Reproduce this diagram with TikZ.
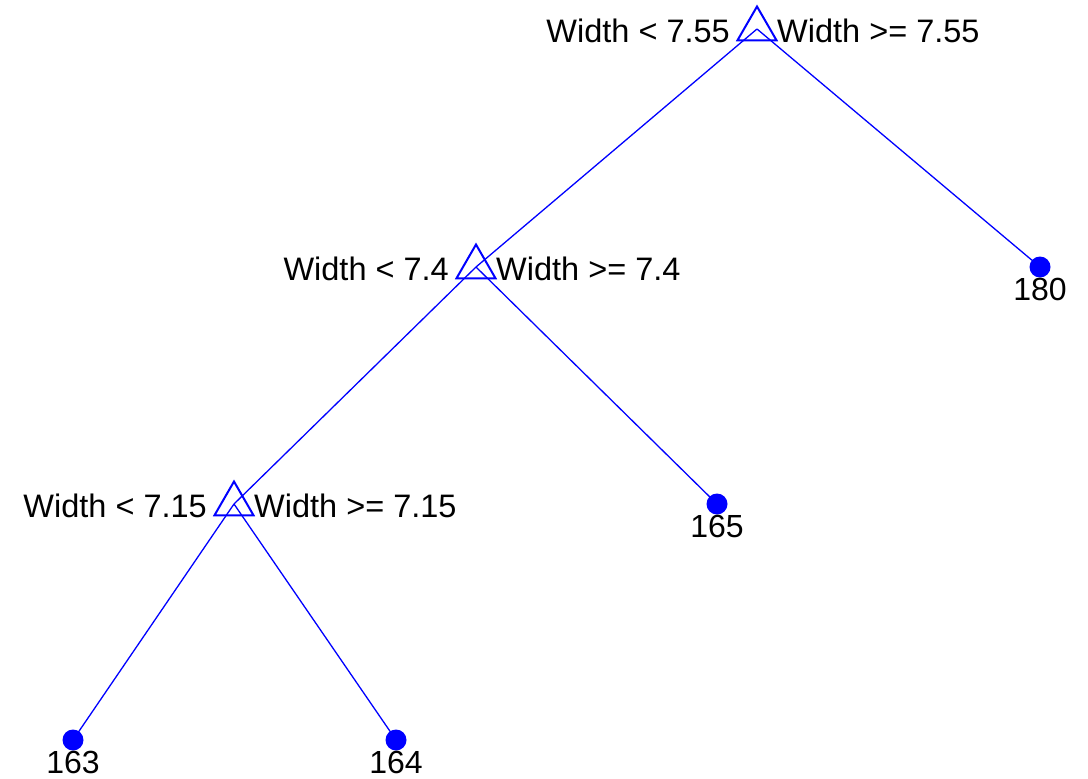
\documentclass[tikz,border=0pt]{standalone}
\usepackage{fontspec}
\setmainfont{Liberation Sans}
\usetikzlibrary{shapes.geometric, calc}

\begin{document}
\begin{tikzpicture}[
    x=1pt, y=-1pt,
    split/.style={regular polygon, regular polygon sides=3, draw=blue, line width=2pt, minimum size=45pt, inner sep=0pt},
    leaf/.style={circle, fill=blue, minimum size=21pt, inner sep=0pt},
    edge/.style={blue, line width=1.3pt},
    cond/.style={font=\fontsize{32.5}{32.5}\selectfont, inner sep=0pt},
    num/.style={font=\fontsize{32}{32}\selectfont, inner sep=0pt, anchor=base}
]
\useasboundingbox (0,0) rectangle (1088,779);

% Split nodes
\node (s1) [split] at (757,29) {};
\node (s2) [split] at (476,267) {};
\node (s3) [split] at (234,504) {};

% Leaves
\node (l180) [leaf] at (1040,267) {};
\node (l165) [leaf] at (717,504) {};
\node (l163) [leaf] at (73,740) {};
\node (l164) [leaf] at (396,740) {};

% Edges
\draw [edge] (s1.center) -- (s2.center);
\draw [edge] (s1.center) -- (l180.center);
\draw [edge] (s2.center) -- (s3.center);
\draw [edge] (s2.center) -- (l165.center);
\draw [edge] (s3.center) -- (l163.center);
\draw [edge] (s3.center) -- (l164.center);

% Conditions
\node (c1l) [cond, anchor=base east] at ($(s1.center)+(-27,13)$) {Width < 7.55};
\node (c1r) [cond, anchor=base west] at ($(s1.center)+(20,13)$) {Width >= 7.55};
\node (c2l) [cond, anchor=base east] at ($(s2.center)+(-27,13)$) {Width < 7.4};
\node (c2r) [cond, anchor=base west] at ($(s2.center)+(20,13)$) {Width >= 7.4};
\node (c3l) [cond, anchor=base east] at ($(s3.center)+(-27,13)$) {Width < 7.15};
\node (c3r) [cond, anchor=base west] at ($(s3.center)+(20,13)$) {Width >= 7.15};

% Leaf values
\node (n180) [num] at ($(l180.center)+(0,33)$) {180};
\node (n165) [num] at ($(l165.center)+(0,33)$) {165};
\node (n163) [num] at ($(l163.center)+(0,33)$) {163};
\node (n164) [num] at ($(l164.center)+(0,33)$) {164};

\end{tikzpicture}
\end{document}
